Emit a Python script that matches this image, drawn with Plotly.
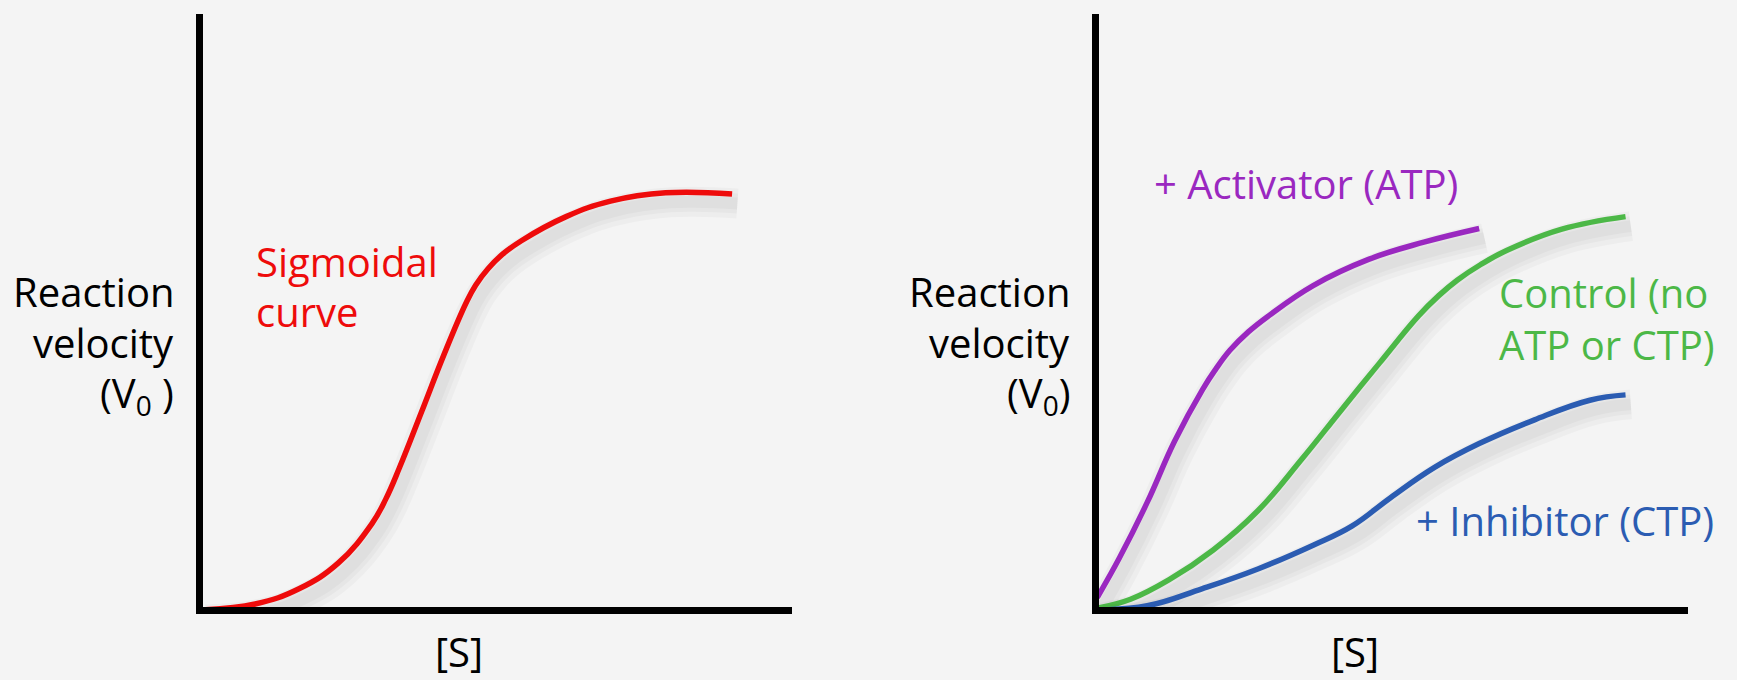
import plotly.graph_objects as go

W, H = 1737, 680

# left panel: sigmoidal curve ([S], V0)
sig_s = [0.05, 0.97, 1.71, 2.36, 2.92, 3.15, 3.38, 3.75, 4.12, 4.49, 4.65, 4.86, 5.10, 5.42, 6.16, 6.90, 7.82, 8.93]
sig_v = [0.00, 0.10, 0.36, 0.79, 1.45, 1.86, 2.39, 3.33, 4.28, 5.15, 5.45, 5.73, 5.97, 6.20, 6.60, 6.86, 7.00, 6.98]

# right panel: activator / control / inhibitor
act_s = [0.01, 0.38, 0.85, 1.31, 1.78, 2.00, 2.24, 2.55, 2.89, 3.64, 4.57, 5.50, 6.43]
act_v = [0.21, 0.87, 1.81, 2.84, 3.71, 4.05, 4.37, 4.68, 4.95, 5.46, 5.90, 6.19, 6.42]

ctl_s = [0.01, 0.57, 1.22, 1.96, 2.71, 3.45, 4.10, 4.75, 5.41, 5.75, 6.06, 6.45, 6.89, 7.82, 8.89]
ctl_v = [0.03, 0.18, 0.51, 1.01, 1.67, 2.54, 3.35, 4.15, 4.95, 5.29, 5.55, 5.81, 6.05, 6.41, 6.62]

inh_s = [0.01, 0.85, 1.78, 2.71, 3.64, 4.29, 4.94, 5.68, 6.43, 7.36, 8.29, 8.89]
inh_v = [0.00, 0.07, 0.36, 0.69, 1.09, 1.41, 1.89, 2.40, 2.80, 3.20, 3.53, 3.62]

RED = '#ee0b0b'
PURPLE = '#9a28c0'
GREEN = '#4cb847'
BLUE = '#2b5cb2'
BG = '#f4f4f4'
FONT = 'Open Sans'


def px(x):
    return x / W


def py(y):
    return 1 - y / H


fig = go.Figure()


def curve(s, v, color, xa, ya):
    # soft drop shadow: a few faint, wide copies shifted down-right
    for w in (30, 20, 12):
        fig.add_trace(go.Scatter(x=[a + 0.09 for a in s], y=[b - 0.16 for b in v],
                                 mode='lines', xaxis=xa, yaxis=ya,
                                 line=dict(color='rgba(0,0,0,0.028)', width=w,
                                           shape='spline', smoothing=1.2),
                                 hoverinfo='skip', showlegend=False))
    fig.add_trace(go.Scatter(x=s, y=v, mode='lines', xaxis=xa, yaxis=ya,
                             line=dict(color=color, width=5.5, shape='spline', smoothing=1.2),
                             hoverinfo='skip', showlegend=False))


curve(sig_s, sig_v, RED, 'x', 'y')
curve(act_s, act_v, PURPLE, 'x2', 'y2')
curve(ctl_s, ctl_v, GREEN, 'x2', 'y2')
curve(inh_s, inh_v, BLUE, 'x2', 'y2')

axis = dict(showline=True, linecolor='black', linewidth=7, showgrid=False,
            zeroline=False, showticklabels=False, ticks='', fixedrange=True)
ydom = [py(607), py(14)]

fig.update_layout(
    width=W, height=H,
    margin=dict(l=0, r=0, t=0, b=0),
    paper_bgcolor=BG, plot_bgcolor='rgba(0,0,0,0)',
    font=dict(family=FONT, size=40, color='black'),
    xaxis=dict(axis, domain=[px(203), px(792)], range=[0.10, 9.93], anchor='y'),
    yaxis=dict(axis, domain=ydom, range=[0.05, 10.0], anchor='x'),
    xaxis2=dict(axis, domain=[px(1099), px(1688)], range=[0.04, 9.94], anchor='y2'),
    yaxis2=dict(axis, domain=ydom, range=[0.05, 10.03], anchor='x2'),
)


def label(text, x, y, anchor='left', color='black'):
    fig.add_annotation(text=text, x=px(x), y=py(y), xref='paper', yref='paper',
                       xanchor=anchor, yanchor='middle', showarrow=False,
                       font=dict(family=FONT, size=40, color=color, weight=500))


# y axis titles
for right in (176, 1072):
    label('Reaction', right, 291, 'right')
    label('velocity', right, 342, 'right')
label('(V<sub>0</sub> )', 176, 394, 'right')
label('(V<sub>0</sub>)', 1072, 394, 'right')

# x axis titles
label('[S]', 459, 651, 'center')
label('[S]', 1355, 651, 'center')

# curve labels
label('Sigmoidal', 254, 261, color=RED)
label('curve', 254, 312, color=RED)
label('+ Activator (ATP)', 1152, 184, color=PURPLE)
label('Control (no', 1497, 292, color=GREEN)
label('ATP or CTP)', 1497, 344, color=GREEN)
label('+ Inhibitor (CTP)', 1414, 520, color=BLUE)

fig.write_html('out.html', config={'displayModeBar': False},
               post_script="document.body.style.margin='0';"
                           "document.body.style.background='%s';" % BG)
